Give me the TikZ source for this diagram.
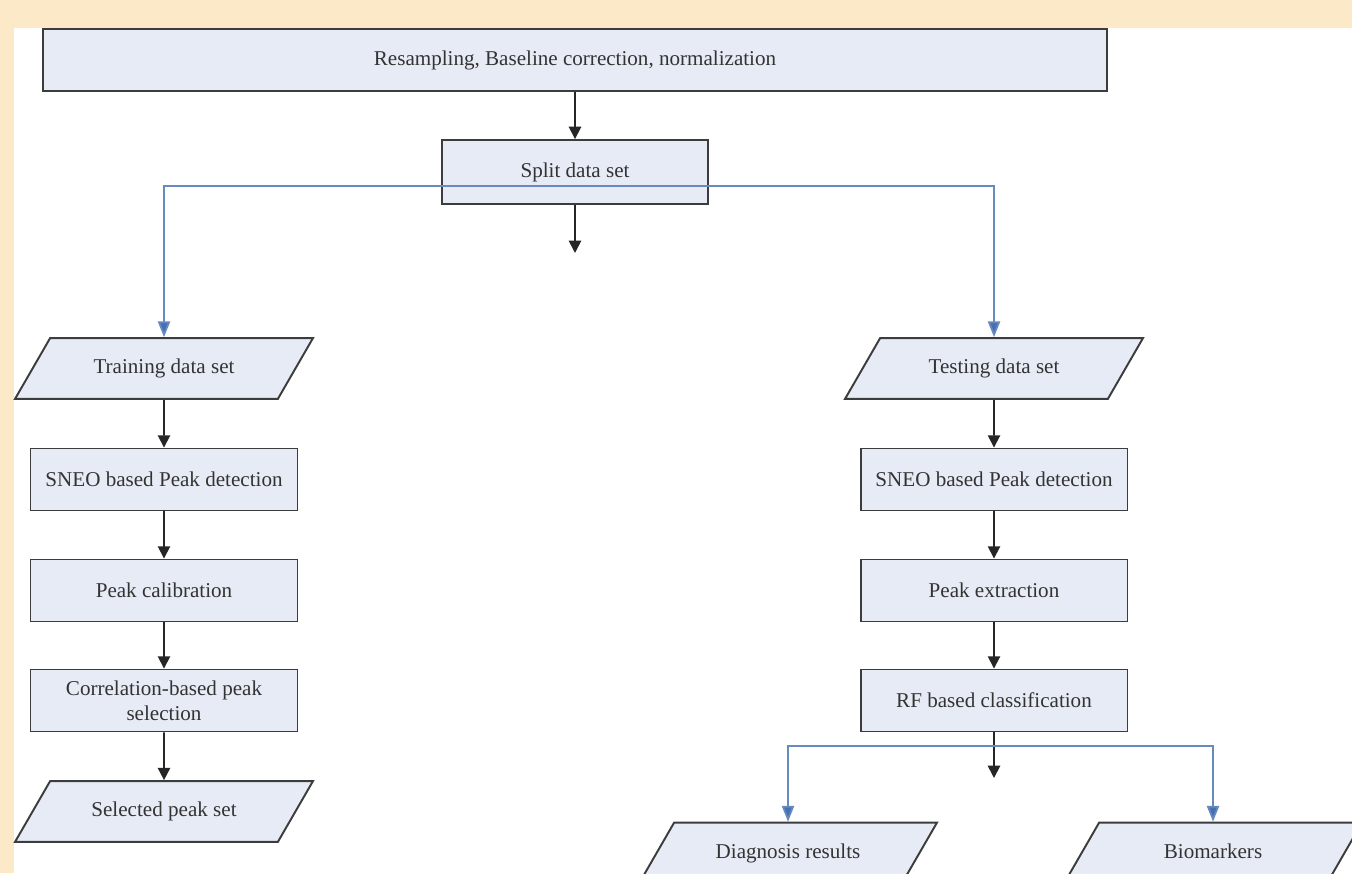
\documentclass[tikz,border=0pt]{standalone}
\usepackage{fontspec}
\setmainfont{Liberation Serif}
\usetikzlibrary{arrows.meta,shapes.geometric}

\definecolor{peach}{RGB}{251,233,200}
\definecolor{boxfill}{RGB}{231,235,246}
\definecolor{boxline}{RGB}{60,60,60}
\definecolor{flowblue}{RGB}{105,138,190}
\definecolor{tipblue}{RGB}{70,112,180}

\begin{document}
\begin{tikzpicture}[x=0.02cm,y=-0.02cm,
  proc/.style={draw=boxline,line width=1.1pt,fill=boxfill,text=black!80,
    minimum width=5.34cm,minimum height=1.24cm,inner sep=2pt,align=center,
    font=\fontsize{12}{14}\selectfont},
  dataset/.style={proc,trapezium,trapezium left angle=60,trapezium right angle=120,
    trapezium stretches body=true,minimum width=5.96cm,minimum height=0pt,
    text height=9pt,text depth=3pt,inner ysep=11.3pt},
  flow/.style={line width=1pt,black!85,-{Triangle[width=7pt,length=7pt]}},
  branch/.style={line width=1pt,flowblue,-{Triangle[width=7pt,length=9pt,fill=tipblue]}}]
% frame
\useasboundingbox (0,0) rectangle (1352,873);
\clip (0,0) rectangle (1352,873);
\fill[peach] (0,0) rectangle (1352,873);
\fill[white] (14,28) rectangle (1352,873);
% preprocessing
\node[proc,minimum width=21.28cm] (prep) at (575,60) {Resampling, Baseline correction, normalization};
\node[proc,minimum width=5.32cm,minimum height=1.28cm] (split) at (575,172) {Split data set};
\coordinate (splitend) at (575,253);
\coordinate (fork) at (575,186);
% training branch
\node[dataset] (train) at (164,368.5) {Training data set};
\node[proc] (sneoL) at (164,479.5) {SNEO based Peak detection};
\node[proc] (calib) at (164,590.5) {Peak calibration};
\node[proc] (corr) at (164,700.5) {Correlation-based peak\\selection};
\node[dataset] (selected) at (164,811.5) {Selected peak set};
% testing branch
\node[dataset] (test) at (994,368.5) {Testing data set};
\node[proc] (sneoR) at (994,479.5) {SNEO based Peak detection};
\node[proc] (extract) at (994,590.5) {Peak extraction};
\node[proc] (rf) at (994,700.5) {RF based classification};
\coordinate (rfend) at (994,778);
\coordinate (rffork) at (994,746);
\node[dataset] (diag) at (788,853) {Diagnosis results};
\node[dataset] (bio) at (1213,853) {Biomarkers};
% connectors
\draw[flow] (prep) -- (split);
\draw[flow] (split) -- (splitend);
\draw[branch] (fork) -| (train);
\draw[branch] (fork) -| (test);
\draw[flow] (train) -- (sneoL);
\draw[flow] (sneoL) -- (calib);
\draw[flow] (calib) -- (corr);
\draw[flow] (corr) -- (selected);
\draw[flow] (test) -- (sneoR);
\draw[flow] (sneoR) -- (extract);
\draw[flow] (extract) -- (rf);
\draw[flow] (rf) -- (rfend);
\draw[branch] (rffork) -| (diag);
\draw[branch] (rffork) -| (bio);
\end{tikzpicture}
\end{document}
